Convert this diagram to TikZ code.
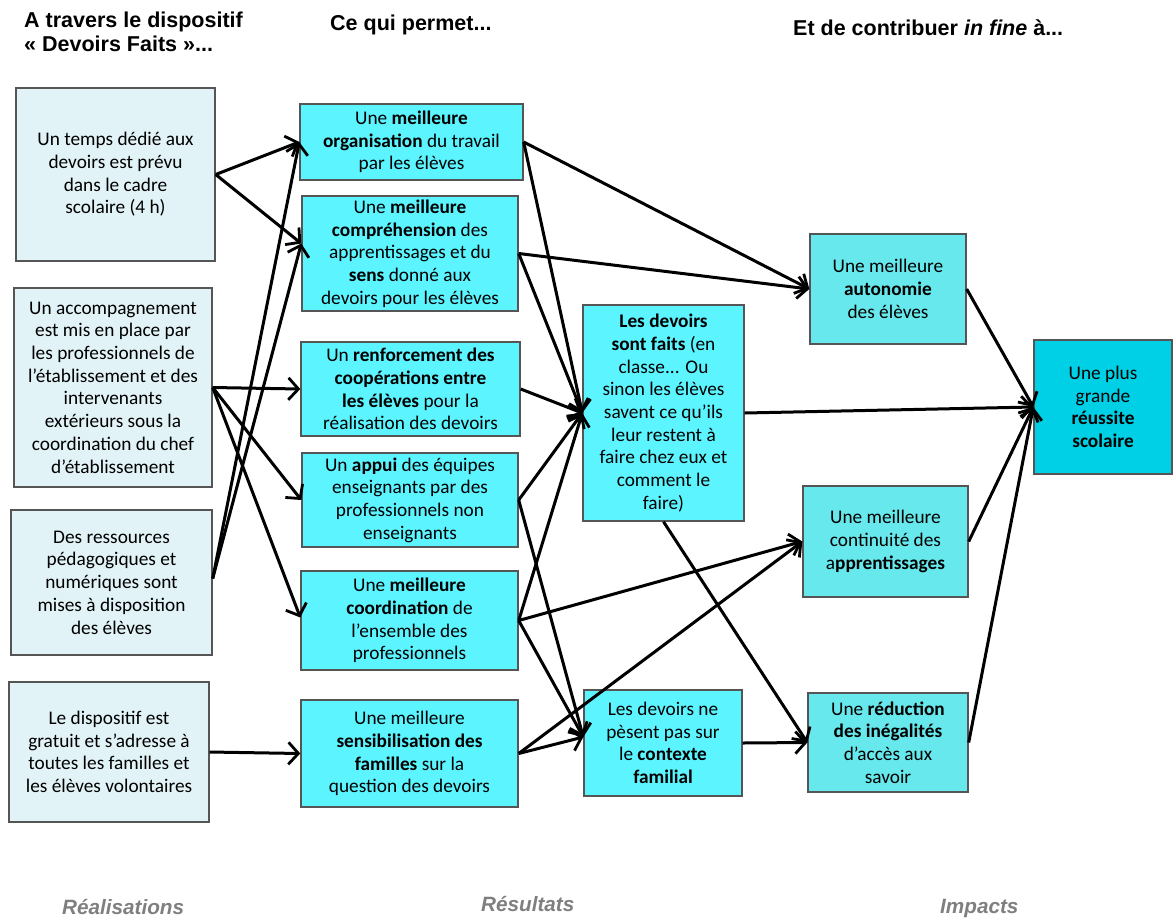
\documentclass[tikz,border=0pt]{standalone}
\usepackage{fontspec}
\setmainfont{Carlito}
\newfontfamily\headfont{Liberation Sans}
\usetikzlibrary{arrows.meta}
\definecolor{lfill}{HTML}{E2F3F7}
\definecolor{mfill}{HTML}{5CF5FF}
\definecolor{rfill}{HTML}{66E8EC}
\definecolor{ffill}{HTML}{00D0E6}
\definecolor{bord}{HTML}{555555}
\definecolor{labgray}{HTML}{7F7F7F}
\begin{document}
\begin{tikzpicture}[x=1pt,y=-1pt,
  box/.style={draw=bord, line width=1.4pt, align=center, inner sep=2pt,
    font=\fontsize{19.3}{22.7}\selectfont},
  lbox/.style={box, fill=lfill},
  mbox/.style={box, fill=mfill},
  rbox/.style={box, fill=rfill},
  fbox/.style={box, fill=ffill},
  head/.style={anchor=base west, inner sep=0pt, font=\headfont\bfseries\fontsize{21.5}{24}\selectfont},
  foot/.style={anchor=base west, inner sep=0pt, text=labgray, font=\headfont\bfseries\itshape\fontsize{20.7}{24}\selectfont},
  conn/.style={line width=3pt, -{Straight Barb[length=10pt,width=22pt,line width=2.8pt]}},
]
\useasboundingbox (0,0) rectangle (1174,919);

% headers
\node[head] (h1) at (24,27) {A travers le dispositif};
\node[head] (h1b) at (24,51) {« Devoirs Faits »...};
\node[head] (h2) at (330,30) {Ce qui permet...};
\node[head] (h3) at (793,35) {Et de contribuer \textit{in fine} à...};

% footers
\node[foot] (f1) at (62,914) {Réalisations};
\node[foot] (f2) at (481,911) {Résultats};
\node[foot] (f3) at (940,913) {Impacts};

% left column
\node[lbox, minimum width=199pt, minimum height=173pt] (L1) at (115.5,174.5)
  {Un temps dédié aux\\devoirs est prévu\\dans le cadre\\scolaire (4 h)};
\node[lbox, minimum width=198pt, minimum height=199pt] (L2) at (113,387.5)
  {Un accompagnement\\est mis en place par\\les professionnels de\\l’établissement et des\\intervenants\\extérieurs sous la\\coordination du chef\\d’établissement};
\node[lbox, minimum width=201pt, minimum height=145pt] (L3) at (111.5,582.5)
  {Des ressources\\pédagogiques et\\numériques sont\\mises à disposition\\des élèves};
\node[lbox, minimum width=200pt, minimum height=140pt] (L4) at (109,752)
  {Le dispositif est\\gratuit et s’adresse à\\toutes les familles et\\les élèves volontaires};

% middle column
\node[mbox, minimum width=223pt, minimum height=76pt] (M1) at (411.5,142)
  {Une \textbf{meilleure}\\\textbf{organisation} du travail\\par les élèves};
\node[mbox, minimum width=216pt, minimum height=115pt] (M2) at (410,253.5)
  {Une \textbf{meilleure}\\\textbf{compréhension} des\\apprentissages et du\\\textbf{sens} donné aux\\devoirs pour les élèves};
\node[mbox, minimum width=219pt, minimum height=94pt] (M3) at (410.5,389)
  {Un \textbf{renforcement des}\\\textbf{coopérations entre}\\\textbf{les élèves} pour la\\réalisation des devoirs};
\node[mbox, minimum width=216pt, minimum height=94pt] (M4) at (410,500)
  {Un \textbf{appui} des équipes\\enseignants par des\\professionnels non\\enseignants};
\node[mbox, minimum width=217pt, minimum height=99pt] (M5) at (409.5,620.5)
  {Une \textbf{meilleure}\\\textbf{coordination} de\\l’ensemble des\\professionnels};
\node[mbox, minimum width=217pt, minimum height=107pt] (M6) at (409.5,753.5)
  {Une meilleure\\\textbf{sensibilisation des}\\\textbf{familles} sur la\\question des devoirs};

% center column
\node[mbox, minimum width=161pt, minimum height=216pt] (C1) at (663.5,413)
  {\textbf{Les devoirs}\\\textbf{sont faits} (en\\classe... Ou\\sinon les élèves\\savent ce qu’ils\\leur restent à\\faire chez eux et\\comment le\\faire)};
\node[mbox, minimum width=158pt, minimum height=106pt] (C2) at (663,743)
  {Les devoirs ne\\pèsent pas sur\\le \textbf{contexte}\\\textbf{familial}};

% right column
\node[rbox, minimum width=156pt, minimum height=110pt] (R1) at (888,289)
  {Une meilleure\\\textbf{autonomie}\\des élèves};
\node[rbox, minimum width=165pt, minimum height=111pt] (R2) at (885.5,541.5)
  {Une meilleure\\continuité des\\a\textbf{pprentissages}};
\node[rbox, minimum width=160pt, minimum height=99pt] (R3) at (888,742.5)
  {Une \textbf{réduction}\\\textbf{des inégalités}\\d’accès aux\\savoir};
\node[fbox, minimum width=138pt, minimum height=134pt] (F) at (1103,407)
  {Une plus\\grande\\\textbf{réussite}\\\textbf{scolaire}};

% connectors: left -> middle
\draw[conn] (L1.east) -- (M1.west);
\draw[conn] (L1.east) -- ([yshift=10pt]M2.west);
\draw[conn] (L2.east) -- (M3.west);
\draw[conn] (L2.east) -- (M4.west);
\draw[conn] (L2.east) -- ([yshift=3pt]M5.west);
\draw[conn] ([yshift=4pt]L3.east) -- (M1.west);
\draw[conn] ([yshift=4pt]L3.east) -- ([yshift=10pt]M2.west);
\draw[conn] (L4.east) -- (M6.west);

% middle -> center / right
\draw[conn] (M1.east) -- (R1.west);
\draw[conn] (M1.east) -- (C1.west);
\draw[conn] (M2.east) -- (R1.west);
\draw[conn] (M2.east) -- (C1.west);
\draw[conn] (M3.east) -- (C1.west);
\draw[conn] (M4.east) -- (C1.west);
\draw[conn] (M4.east) -- ([yshift=6pt]C2.west);
\draw[conn] (M5.east) -- (C1.west);
\draw[conn] (M5.east) -- (R2.west);
\draw[conn] (M5.east) -- ([yshift=6pt]C2.west);
\draw[conn] (M6.east) -- ([yshift=6pt]C2.west);
\draw[conn] (M6.east) -- (R2.west);

% center -> right
\draw[conn] (C1.east) -- (F.west);
\draw[conn] (C1.south) -- (R3.west);
\draw[conn] (C2.east) -- (R3.west);

% right -> final
\draw[conn] (R1.east) -- (F.west);
\draw[conn] (R2.east) -- (F.west);
\draw[conn] (R3.east) -- (F.west);
\end{tikzpicture}
\end{document}
